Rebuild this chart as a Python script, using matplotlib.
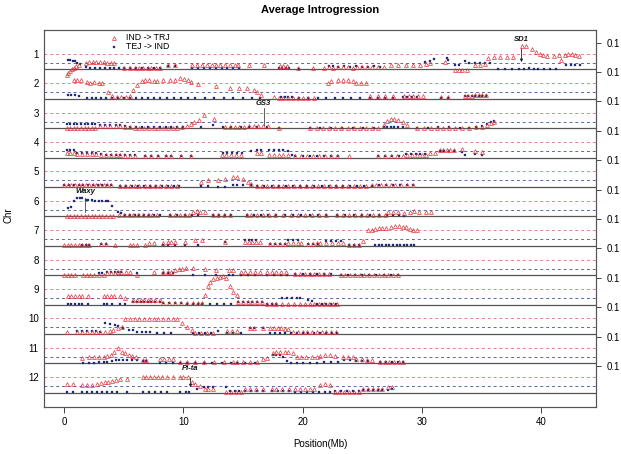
import numpy as np
import matplotlib
matplotlib.use("Agg")
import matplotlib.pyplot as plt

plt.rcParams['font.family'] = ['Liberation Sans', 'DejaVu Sans']

# (position Mb, height above chromosome baseline in row units)
chr1_red = [(0.2,-0.18),(0.35,-0.12),(0.5,-0.06),(0.65,0.0),(0.8,0.06),(1.0,0.1),(1.2,0.16),(1.8,0.23),(2.1,0.24),(2.4,0.24),(2.7,0.24),(3.0,0.24),(3.3,0.24),(3.6,0.23),(3.9,0.23),(4.2,0.22),(5.0,0.03),(5.5,0.03),(5.9,0.03),(6.3,0.03),(6.6,0.03),(7.0,0.03),(7.3,0.03),(7.7,0.03),(8.0,0.04),(8.7,0.15),(9.3,0.15),(10.7,0.14),(11.1,0.14),(11.6,0.14),(12.0,0.14),(12.4,0.14),(12.7,0.14),(13.1,0.14),(13.5,0.14),(13.9,0.14),(14.3,0.14),(14.6,0.14),(15.5,0.15),(16.8,0.15),(18.1,0.12),(18.4,0.1),(18.7,0.1),(19.6,0.04),(20.9,0.04),(21.8,0.04),(22.2,0.08),(22.6,0.06),(23.0,0.07),(23.4,0.08),(23.8,0.08),(24.2,0.06),(24.6,0.08),(25.0,0.08),(25.4,0.07),(25.8,0.08),(26.3,0.08),(26.8,0.08),(27.4,0.14),(28.0,0.14),(28.7,0.14),(29.3,0.14),(29.9,0.14),(30.4,0.18),(30.7,0.22),(32.0,0.24),(32.8,-0.02),(33.1,-0.03),(33.4,-0.03),(33.8,-0.02),(34.5,0.15),(34.9,0.16),(35.3,0.17),(35.6,0.4),(36.1,0.42),(36.6,0.42),(37.2,0.42),(37.7,0.42),(38.4,0.78),(38.8,0.78),(39.3,0.7),(39.6,0.6),(39.9,0.52),(40.2,0.47),(40.5,0.45),(41.1,0.45),(41.5,0.48),(41.7,0.32),(42.0,0.5),(42.3,0.52),(42.6,0.52),(42.9,0.5),(43.2,0.46)]
chr1_blue = [(0.3,0.3),(0.5,0.31),(0.7,0.29),(0.9,0.27),(1.1,0.22),(1.3,0.18),(1.8,0.08),(2.2,0.05),(2.6,0.05),(3.0,0.04),(3.4,0.04),(3.8,0.04),(4.2,0.04),(4.6,0.03),(5.0,0.03),(5.5,0.03),(6.0,0.03),(6.5,0.03),(7.0,0.03),(7.5,0.03),(8.0,0.03),(8.7,0.1),(9.3,0.1),(10.7,0.03),(11.2,0.03),(11.7,0.03),(12.2,0.03),(12.7,0.03),(13.2,0.03),(13.7,0.03),(14.2,0.03),(14.7,0.03),(18.0,0.04),(18.3,0.04),(18.6,0.04),(18.9,0.04),(19.7,0.02),(22.2,0.1),(22.6,0.1),(23.0,0.09),(23.5,0.1),(24.0,0.09),(24.5,0.1),(25.0,0.08),(25.5,0.09),(26.0,0.1),(26.5,0.08),(30.3,0.25),(30.7,0.28),(31.0,0.35),(32.1,0.4),(32.2,0.3),(32.8,0.15),(33.1,0.15),(33.6,0.28),(34.0,0.2),(34.5,0.2),(34.9,0.2),(35.3,0.2),(35.7,0.2),(36.4,0.02),(37.0,0.02),(37.6,0.02),(38.2,0.02),(38.6,0.02),(39.0,0.03),(39.4,0.02),(39.8,0.02),(40.3,0.02),(40.8,0.02),(41.3,0.02),(42.1,0.15),(42.5,0.15),(42.9,0.15),(43.3,0.15)]

chr2_red = [(0.8,0.62),(1.1,0.63),(1.4,0.62),(1.9,0.56),(2.2,0.55),(2.5,0.56),(2.9,0.55),(3.2,0.53),(3.7,0.22),(4.0,0.08),(4.4,0.06),(4.8,0.05),(5.2,0.05),(5.5,0.1),(5.8,0.3),(6.1,0.45),(6.5,0.6),(6.8,0.62),(7.1,0.62),(7.5,0.61),(7.8,0.6),(8.3,0.62),(8.9,0.62),(9.3,0.65),(9.75,0.7),(10.05,0.67),(10.35,0.62),(10.65,0.58),(11.25,0.5),(12.7,0.42),(13.9,0.38),(14.7,0.38),(15.3,0.38),(15.9,0.3),(16.2,0.22),(16.5,0.12),(17.6,0.05),(18.0,0.04),(18.4,0.04),(18.8,0.04),(19.2,0.04),(19.6,0.04),(20.0,0.04),(20.5,0.04),(21.0,0.04),(22.1,0.54),(22.4,0.6),(23.0,0.63),(23.4,0.64),(23.8,0.62),(24.2,0.6),(24.5,0.55),(24.9,0.54),(25.3,0.53),(25.7,0.1),(26.3,0.1),(26.9,0.1),(27.6,0.1),(28.5,0.08),(28.9,0.08),(29.3,0.08),(29.7,0.08),(30.1,0.08),(31.6,0.05),(32.2,0.05),(33.6,0.1),(33.9,0.1),(34.2,0.1),(34.5,0.11),(34.8,0.11),(35.1,0.11),(35.4,0.11)]
chr2_blue = [(0.3,0.12),(0.6,0.12),(0.9,0.11),(1.2,0.1),(1.9,0.03),(2.3,0.02),(2.7,0.02),(3.1,0.02),(3.5,0.02),(4.0,0.02),(4.5,0.02),(5.0,0.02),(5.5,0.02),(6.0,0.02),(6.5,0.02),(7.0,0.02),(7.5,0.02),(8.0,0.02),(8.6,0.02),(9.2,0.02),(9.8,0.02),(10.4,0.03),(11.0,0.02),(11.8,0.02),(12.6,0.02),(13.4,0.02),(14.2,0.02),(15.0,0.02),(15.8,0.02),(16.4,0.03),(18.2,0.06),(18.5,0.07),(18.8,0.06),(19.1,0.05),(19.7,0.02),(20.5,0.02),(21.3,0.02),(22.0,0.02),(22.7,0.02),(23.4,0.02),(24.1,0.02),(24.8,0.02),(25.7,0.03),(26.3,0.03),(26.9,0.03),(27.6,0.03),(28.4,0.06),(28.8,0.06),(29.2,0.06),(29.6,0.06),(31.6,0.03),(32.2,0.03),(33.6,0.08),(33.9,0.08),(34.2,0.08),(34.5,0.08),(34.8,0.08),(35.1,0.08),(35.4,0.08)]

chr3_red = [(0.2,0.02),(0.5,0.02),(0.8,0.02),(1.1,0.02),(1.4,0.02),(1.7,0.02),(2.0,0.02),(2.3,0.02),(2.6,0.02),(3.0,0.06),(3.4,0.06),(3.8,0.06),(4.3,0.06),(4.7,0.06),(5.1,0.03),(5.5,0.03),(5.9,0.02),(6.3,0.02),(6.7,0.02),(7.1,0.02),(7.5,0.02),(7.9,0.02),(8.3,0.02),(8.7,0.02),(9.1,0.02),(9.5,0.02),(9.9,0.03),(10.3,0.08),(10.6,0.15),(10.9,0.2),(11.3,0.28),(11.7,0.45),(12.6,0.32),(13.5,0.05),(13.9,0.04),(14.3,0.04),(14.7,0.05),(15.1,0.05),(15.5,0.06),(15.9,0.06),(16.3,0.07),(16.7,0.06),(17.1,0.06),(18.0,0.02),(20.6,0.02),(21.2,0.02),(21.7,0.02),(22.2,0.02),(22.7,0.02),(23.2,0.02),(23.8,0.02),(24.3,0.02),(24.8,0.02),(25.3,0.02),(25.8,0.02),(26.3,0.02),(26.8,0.1),(27.1,0.25),(27.4,0.3),(27.7,0.3),(28.0,0.28),(28.4,0.2),(28.8,0.1),(29.6,0.02),(30.2,0.02),(30.8,0.02),(31.3,0.02),(31.8,0.02),(32.3,0.02),(32.8,0.02),(33.4,0.02),(34.0,0.02),(34.6,0.03),(35.1,0.05),(35.5,0.12),(35.8,0.18),(36.1,0.22)]
chr3_blue = [(0.2,0.14),(0.5,0.14),(0.8,0.14),(1.1,0.14),(1.4,0.14),(1.7,0.14),(2.0,0.14),(2.3,0.13),(2.6,0.13),(3.0,0.12),(3.4,0.12),(3.8,0.12),(4.3,0.1),(4.7,0.1),(5.1,0.06),(5.5,0.04),(6.0,0.03),(6.5,0.03),(7.0,0.03),(7.5,0.03),(8.0,0.03),(8.5,0.03),(9.0,0.03),(9.5,0.03),(10.0,0.03),(11.5,0.03),(12.5,0.1),(13.3,0.03),(14.0,0.03),(14.8,0.03),(15.5,0.03),(16.2,0.03),(17.0,0.03),(18.0,0.02),(20.6,0.02),(21.5,0.02),(22.4,0.02),(23.3,0.02),(24.2,0.02),(25.1,0.02),(26.0,0.02),(26.8,0.03),(27.1,0.03),(27.4,0.03),(27.7,0.03),(28.0,0.03),(28.4,0.03),(29.6,0.02),(30.5,0.02),(31.4,0.03),(32.3,0.03),(33.2,0.02),(34.0,0.02),(34.6,0.03),(35.1,0.06),(35.5,0.14),(35.8,0.2),(36.1,0.24)]

chr4_red = [(0.2,0.16),(0.5,0.16),(0.8,0.16),(1.1,0.12),(1.5,0.12),(1.9,0.12),(2.3,0.12),(2.7,0.12),(3.1,0.1),(3.5,0.08),(3.9,0.08),(4.3,0.08),(4.7,0.08),(5.1,0.06),(5.5,0.06),(5.9,0.06),(6.8,0.04),(7.3,0.04),(7.9,0.04),(8.5,0.04),(9.0,0.04),(9.8,0.04),(10.6,0.04),(13.2,0.1),(13.6,0.1),(14.0,0.1),(14.4,0.1),(14.8,0.1),(16.2,0.16),(16.5,0.16),(17.2,0.07),(17.6,0.07),(18.0,0.07),(18.4,0.07),(18.8,0.07),(19.4,0.04),(19.9,0.04),(20.4,0.04),(20.9,0.04),(21.4,0.04),(21.9,0.04),(22.4,0.04),(22.9,0.04),(23.9,0.04),(26.3,0.04),(26.9,0.04),(27.4,0.04),(27.9,0.04),(28.4,0.04),(28.8,0.08),(29.2,0.08),(29.6,0.08),(30.0,0.08),(30.4,0.1),(30.7,0.15),(31.1,0.15),(31.5,0.24),(31.8,0.25),(32.1,0.25),(32.4,0.24),(32.7,0.24),(33.4,0.28),(34.5,0.22),(35.1,0.2)]
chr4_blue = [(0.2,0.25),(0.5,0.25),(0.8,0.24),(1.1,0.15),(1.5,0.15),(1.9,0.14),(2.3,0.14),(2.7,0.14),(3.1,0.13),(3.5,0.1),(3.9,0.1),(4.3,0.1),(4.7,0.1),(5.1,0.08),(5.5,0.08),(5.9,0.08),(6.8,0.04),(7.3,0.04),(7.9,0.04),(8.5,0.04),(9.0,0.04),(9.8,0.04),(10.6,0.04),(13.3,0.15),(13.7,0.15),(14.1,0.15),(14.5,0.15),(14.9,0.15),(15.7,0.22),(16.2,0.24),(16.5,0.25),(17.2,0.24),(17.6,0.24),(18.0,0.24),(18.4,0.24),(18.8,0.22),(19.1,0.1),(19.4,0.04),(20.0,0.04),(20.6,0.04),(21.2,0.04),(21.8,0.04),(22.4,0.04),(23.0,0.04),(26.3,0.04),(26.9,0.04),(27.5,0.04),(28.1,0.04),(28.7,0.12),(29.1,0.12),(29.5,0.12),(29.9,0.12),(30.3,0.12),(31.5,0.22),(31.9,0.22),(32.3,0.22),(32.7,0.22),(33.4,0.2),(33.6,0.1),(34.5,0.12),(35.1,0.1)]

chr5_red = [(0.0,0.06),(0.3,0.06),(0.6,0.06),(0.9,0.07),(1.2,0.07),(1.5,0.06),(1.8,0.06),(2.1,0.06),(2.4,0.06),(2.7,0.06),(3.0,0.06),(3.3,0.06),(3.6,0.06),(3.9,0.06),(4.7,0.03),(5.1,0.03),(5.5,0.03),(5.9,0.03),(6.3,0.03),(6.8,0.03),(7.2,0.03),(7.6,0.03),(8.0,0.03),(8.5,0.03),(9.0,0.03),(9.5,0.03),(11.5,0.18),(12.1,0.23),(12.9,0.24),(13.5,0.27),(14.2,0.33),(14.5,0.35),(15.0,0.27),(15.4,0.18),(15.7,0.1),(16.2,0.04),(16.6,0.04),(17.0,0.04),(17.5,0.04),(17.9,0.04),(18.4,0.04),(18.8,0.04),(19.3,0.04),(19.8,0.04),(20.3,0.04),(20.8,0.04),(21.3,0.04),(21.8,0.04),(22.3,0.04),(22.8,0.04),(23.3,0.04),(23.8,0.04),(24.3,0.04),(24.8,0.04),(25.3,0.04),(25.8,0.05),(26.2,0.06),(26.6,0.06),(27.0,0.06),(27.4,0.06),(27.8,0.05),(28.3,0.05),(28.8,0.05),(29.3,0.05)]
chr5_blue = [(0.0,0.06),(0.4,0.06),(0.8,0.06),(1.2,0.06),(1.6,0.06),(2.0,0.06),(2.4,0.06),(2.8,0.06),(3.2,0.06),(3.6,0.06),(3.9,0.06),(4.7,0.03),(5.2,0.03),(5.7,0.03),(6.2,0.03),(6.7,0.03),(7.2,0.03),(7.7,0.03),(8.2,0.03),(8.7,0.03),(9.2,0.03),(9.6,0.03),(11.5,0.03),(12.1,0.03),(12.9,0.0),(13.5,-0.01),(14.2,0.06),(14.5,0.06),(15.0,0.06),(15.7,0.06),(16.2,0.04),(16.8,0.04),(17.4,0.04),(18.0,0.04),(18.6,0.04),(19.2,0.04),(19.8,0.04),(20.4,0.04),(21.0,0.04),(21.6,0.04),(22.2,0.04),(22.8,0.04),(23.4,0.04),(24.0,0.04),(24.6,0.04),(25.2,0.04),(25.8,0.04),(26.4,0.05),(27.0,0.05),(27.6,0.05),(28.2,0.05),(28.8,0.05),(29.3,0.05)]

chr6_red = [(0.2,0.02),(0.5,0.02),(0.8,0.02),(1.1,0.02),(1.4,0.02),(1.7,0.02),(2.0,0.02),(2.3,0.02),(2.6,0.02),(2.9,0.02),(3.2,0.02),(3.5,0.02),(3.8,0.02),(4.1,0.02),(4.6,0.04),(5.0,0.05),(5.4,0.05),(5.8,0.05),(6.2,0.05),(6.6,0.05),(7.0,0.05),(7.4,0.05),(7.8,0.05),(8.9,0.04),(9.3,0.04),(9.7,0.04),(10.1,0.04),(10.5,0.06),(10.8,0.16),(11.1,0.17),(11.4,0.16),(11.8,0.13),(12.5,0.03),(12.9,0.03),(13.4,0.03),(13.9,0.03),(15.3,0.03),(15.7,0.03),(16.2,0.03),(16.7,0.03),(17.2,0.03),(17.7,0.03),(18.4,0.03),(19.0,0.03),(19.6,0.03),(20.2,0.03),(20.8,0.03),(21.4,0.03),(22.0,0.03),(22.9,0.03),(23.4,0.03),(23.9,0.03),(24.4,0.03),(24.9,0.03),(25.4,0.03),(25.9,0.03),(26.4,0.03),(26.9,0.03),(27.2,0.16),(27.6,0.16),(28.0,0.15),(28.5,0.12),(29.0,0.16),(29.4,0.17),(29.8,0.16),(30.4,0.14),(30.8,0.14)]
chr6_blue = [(0.35,0.29),(0.6,0.33),(0.8,0.52),(1.1,0.62),(1.3,0.63),(1.5,0.62),(1.8,0.55),(2.0,0.55),(2.3,0.54),(2.6,0.53),(2.9,0.53),(3.2,0.53),(3.5,0.53),(3.7,0.52),(4.0,0.36),(4.5,0.14),(4.8,0.1),(5.1,0.05),(5.5,0.05),(5.9,0.05),(6.3,0.05),(6.7,0.05),(7.1,0.05),(7.5,0.05),(8.0,0.05),(8.9,0.03),(9.5,0.03),(10.1,0.03),(10.7,0.03),(11.2,0.03),(12.5,0.03),(13.0,0.03),(13.5,0.03),(14.0,0.03),(15.3,0.03),(15.9,0.03),(16.5,0.03),(17.1,0.03),(17.8,0.03),(18.5,0.03),(19.2,0.03),(19.9,0.03),(20.6,0.03),(21.3,0.03),(22.0,0.03),(22.9,0.03),(23.6,0.03),(24.3,0.03),(25.0,0.03),(25.7,0.03),(26.4,0.03),(27.1,0.03),(27.6,0.03),(28.1,0.03),(28.5,0.02)]

chr7_red = [(0.0,0.02),(0.3,0.02),(0.6,0.02),(0.9,0.02),(1.2,0.02),(1.5,0.04),(1.8,0.04),(2.1,0.04),(3.1,0.06),(3.5,0.06),(4.25,0.04),(5.5,0.02),(5.8,0.02),(6.1,0.02),(6.8,0.04),(7.1,0.1),(7.5,0.1),(8.3,0.1),(8.7,0.14),(9.0,0.14),(9.3,0.14),(10.1,0.14),(11.0,0.18),(11.6,0.2),(13.5,0.14),(15.2,0.12),(15.5,0.12),(15.8,0.12),(16.1,0.12),(16.4,0.12),(17.3,0.06),(17.7,0.06),(18.1,0.06),(18.5,0.06),(18.8,0.1),(19.2,0.1),(19.6,0.1),(19.9,0.1),(20.5,0.06),(20.9,0.06),(21.2,0.08),(21.5,0.08),(22.0,0.1),(22.5,0.1),(23.0,0.1),(23.4,0.1),(23.9,0.02),(24.3,0.02),(24.7,0.02),(25.1,0.15),(25.5,0.53),(25.8,0.55),(26.1,0.57),(26.4,0.59),(26.7,0.59),(27.0,0.6),(27.4,0.65),(27.8,0.66),(28.1,0.66),(28.4,0.63),(28.7,0.63),(29.0,0.56),(29.3,0.55),(29.6,0.55)]
chr7_blue = [(1.5,0.04),(1.8,0.04),(2.1,0.04),(3.1,0.06),(3.5,0.06),(8.3,0.03),(8.7,0.03),(9.3,0.03),(10.1,0.02),(11.2,0.02),(13.5,0.12),(15.2,0.2),(15.5,0.2),(15.8,0.2),(16.1,0.2),(17.3,0.06),(17.7,0.06),(18.1,0.06),(18.5,0.06),(18.8,0.2),(19.2,0.2),(19.6,0.2),(20.5,0.06),(20.9,0.06),(21.3,0.06),(22.0,0.17),(22.4,0.17),(22.8,0.17),(23.2,0.17),(23.9,0.02),(24.3,0.02),(24.7,0.02),(26.1,0.02),(26.4,0.02),(26.7,0.02),(27.0,0.02),(27.3,0.02),(27.6,0.02),(27.9,0.02),(28.2,0.02),(28.5,0.02),(28.8,0.02),(29.1,0.02),(29.4,0.02)]

chr8_red = [(0.0,0.02),(0.3,0.02),(0.6,0.02),(0.9,0.02),(1.6,0.02),(1.9,0.02),(2.2,0.02),(2.5,0.02),(2.9,0.02),(3.3,0.02),(3.6,0.08),(3.9,0.08),(4.25,0.08),(4.5,0.1),(4.8,0.1),(5.2,0.12),(5.5,0.12),(6.1,0.02),(7.5,0.1),(8.3,0.1),(8.7,0.1),(9.0,0.1),(9.3,0.17),(9.6,0.2),(9.9,0.22),(10.2,0.23),(10.8,0.23),(11.8,0.2),(12.75,0.18),(13.8,0.18),(14.2,0.18),(14.8,0.1),(15.2,0.1),(15.6,0.1),(16.0,0.1),(16.4,0.1),(17.0,0.1),(17.4,0.1),(17.8,0.1),(18.2,0.1),(18.6,0.1),(19.4,0.05),(19.8,0.05),(20.2,0.05),(20.6,0.05),(21.0,0.05),(21.4,0.05),(21.8,0.05),(22.2,0.05),(23.2,0.02),(23.6,0.02),(24.0,0.02),(24.4,0.02),(24.8,0.02),(25.2,0.02),(25.6,0.02),(26.0,0.02),(26.4,0.02),(26.8,0.02),(27.2,0.02),(27.6,0.02),(28.0,0.02)]
chr8_blue = [(2.9,0.08),(3.2,0.08),(3.6,0.1),(3.9,0.1),(4.25,0.1),(4.5,0.1),(4.8,0.1),(6.1,0.06),(8.3,0.06),(8.7,0.06),(9.1,0.06),(10.8,0.02),(11.8,0.02),(12.75,0.0),(13.8,0.02),(14.2,0.02),(14.8,0.02),(15.4,0.02),(16.0,0.02),(17.0,0.0),(17.6,0.0),(18.2,0.0),(18.7,0.0),(19.4,0.04),(20.0,0.04),(20.6,0.04),(21.2,0.04),(21.8,0.04),(22.4,0.04),(23.2,0.01),(23.8,0.01),(24.4,0.01),(25.0,0.01),(25.6,0.01),(26.2,0.01),(26.8,0.01),(27.4,0.01),(28.0,0.01)]

chr9_red = [(0.3,0.28),(0.6,0.28),(0.9,0.28),(1.2,0.28),(1.5,0.28),(2.0,0.28),(3.3,0.28),(3.6,0.28),(3.9,0.28),(4.2,0.28),(4.7,0.28),(5.1,0.23),(5.8,0.15),(6.1,0.15),(6.4,0.15),(6.7,0.15),(7.0,0.15),(7.3,0.15),(7.6,0.15),(8.0,0.15),(8.3,0.06),(8.8,0.06),(9.3,0.06),(9.8,0.06),(10.3,0.05),(10.8,0.05),(11.2,0.05),(11.6,0.05),(11.8,0.31),(12.1,0.62),(12.2,0.78),(12.5,0.88),(12.8,0.9),(13.1,0.95),(13.3,0.97),(13.6,0.9),(13.9,0.64),(14.2,0.44),(14.5,0.33),(14.6,0.07),(15.0,0.07),(15.4,0.07),(15.8,0.07),(16.2,0.07),(16.6,0.07),(17.0,0.03),(17.4,0.03),(17.8,0.03),(18.3,0.03),(18.8,0.03),(19.3,0.03),(19.8,0.03),(20.2,0.03),(20.6,0.03),(21.0,0.03),(21.4,0.03),(21.8,0.03),(22.2,0.03),(22.6,0.03),(22.9,0.03)]
chr9_blue = [(0.3,0.03),(0.6,0.03),(0.9,0.03),(1.2,0.03),(1.5,0.03),(2.0,0.03),(3.3,0.03),(3.6,0.03),(4.0,0.03),(4.7,0.03),(5.1,0.03),(5.8,0.1),(6.1,0.1),(6.4,0.1),(6.7,0.1),(7.0,0.1),(7.3,0.1),(7.6,0.1),(8.0,0.1),(8.3,0.05),(8.8,0.05),(9.3,0.05),(9.8,0.05),(10.3,0.02),(10.8,0.02),(11.2,0.02),(11.6,0.02),(12.2,0.02),(12.8,0.02),(13.4,0.02),(14.0,0.02),(14.6,0.07),(15.0,0.07),(15.4,0.07),(15.8,0.07),(16.2,0.07),(16.6,0.07),(17.0,0.02),(17.4,0.02),(17.8,0.02),(18.3,0.22),(18.7,0.22),(19.1,0.22),(19.5,0.22),(19.8,0.22),(20.5,0.17),(20.8,0.12),(21.2,0.02),(21.6,0.02),(22.0,0.02),(22.4,0.02),(22.8,0.02)]

chr10_red = [(0.2,0.06),(1.1,0.06),(1.5,0.06),(1.9,0.06),(2.3,0.06),(2.7,0.06),(3.0,0.08),(3.4,0.08),(3.8,0.1),(4.1,0.15),(4.5,0.2),(4.85,0.24),(5.1,0.5),(5.5,0.5),(5.9,0.5),(6.3,0.5),(6.7,0.5),(7.1,0.5),(7.5,0.5),(7.9,0.5),(8.3,0.5),(8.7,0.5),(9.1,0.5),(9.5,0.5),(9.9,0.36),(10.3,0.22),(10.7,0.12),(11.0,0.04),(11.5,0.04),(12.0,0.04),(12.5,0.04),(13.7,0.1),(14.1,0.1),(14.5,0.1),(15.6,0.2),(15.9,0.2),(16.7,0.19),(17.3,0.2),(17.6,0.2),(17.9,0.2),(18.2,0.19),(18.5,0.18),(18.8,0.17),(19.2,0.05),(19.6,0.05),(20.0,0.05),(20.4,0.05),(20.8,0.05),(21.2,0.05),(21.6,0.05),(22.0,0.05),(22.4,0.05),(22.8,0.05)]
chr10_blue = [(1.1,0.1),(1.5,0.1),(1.9,0.1),(2.3,0.1),(2.7,0.1),(3.0,0.05),(3.4,0.36),(3.8,0.35),(4.25,0.3),(4.5,0.27),(4.95,0.2),(5.4,0.13),(5.8,0.12),(6.1,0.05),(6.5,0.05),(6.9,0.05),(7.2,0.05),(7.8,0.03),(8.4,0.03),(9.0,0.03),(10.8,0.04),(11.3,0.04),(11.8,0.04),(12.3,0.04),(12.9,0.1),(13.7,0.04),(14.2,0.04),(14.8,0.04),(15.6,0.2),(15.9,0.2),(16.7,0.19),(17.3,0.04),(17.7,0.04),(18.1,0.04),(18.5,0.04),(19.0,0.04),(19.5,0.03),(20.0,0.03),(20.5,0.03),(21.0,0.03),(21.5,0.03),(22.0,0.03),(22.5,0.03),(22.9,0.03)]

chr11_red = [(1.46,0.19),(2.1,0.2),(2.5,0.2),(2.9,0.21),(3.3,0.22),(3.6,0.24),(3.9,0.3),(4.2,0.4),(4.5,0.53),(4.85,0.4),(5.1,0.35),(5.4,0.3),(5.7,0.26),(6.0,0.22),(6.6,0.1),(6.9,0.1),(8.0,0.15),(8.4,0.15),(8.8,0.15),(9.1,0.15),(9.7,0.04),(10.3,0.04),(11.0,0.04),(11.7,0.04),(12.6,0.04),(13.4,0.04),(14.2,0.04),(14.5,0.04),(15.0,0.04),(15.6,0.04),(16.2,0.04),(16.7,0.15),(17.0,0.18),(17.5,0.35),(17.8,0.37),(18.1,0.38),(18.5,0.38),(18.8,0.38),(19.2,0.36),(19.5,0.22),(19.9,0.2),(20.3,0.2),(20.8,0.2),(21.2,0.2),(21.5,0.25),(21.9,0.27),(22.3,0.28),(22.7,0.26),(23.4,0.2),(23.8,0.2),(24.2,0.2),(24.5,0.15),(25.0,0.13),(25.4,0.12),(25.8,0.12),(26.5,0.05),(26.9,0.05),(27.3,0.05),(27.7,0.05),(28.1,0.05),(28.4,0.05)]
chr11_blue = [(1.6,0.02),(2.1,0.02),(2.5,0.02),(2.9,0.03),(3.3,0.04),(3.6,0.05),(4.0,0.07),(4.3,0.1),(4.6,0.12),(4.9,0.12),(5.3,0.12),(5.7,0.12),(6.1,0.12),(6.6,0.08),(6.9,0.08),(8.0,0.02),(8.5,0.02),(9.1,0.02),(9.7,0.02),(10.3,0.02),(11.0,0.02),(11.7,0.02),(12.4,0.02),(13.2,0.02),(14.0,0.02),(14.5,0.02),(15.2,0.02),(16.0,0.02),(17.5,0.28),(17.8,0.29),(18.1,0.3),(18.4,0.2),(18.7,0.08),(19.0,0.02),(19.5,0.02),(20.0,0.02),(20.6,0.02),(21.2,0.02),(21.8,0.03),(22.4,0.03),(23.0,0.05),(23.5,0.1),(24.0,0.1),(24.5,0.08),(25.0,0.08),(25.5,0.08),(26.5,0.04),(27.0,0.04),(27.5,0.04),(28.0,0.04),(28.4,0.04)]

chr12_red = [(0.2,0.28),(0.7,0.3),(1.5,0.27),(1.9,0.26),(2.3,0.26),(2.75,0.28),(3.1,0.32),(3.4,0.35),(3.7,0.38),(4.0,0.4),(4.3,0.43),(4.7,0.47),(5.3,0.47),(6.6,0.53),(6.9,0.53),(7.2,0.53),(7.5,0.53),(7.9,0.52),(8.2,0.53),(8.6,0.53),(9.1,0.53),(9.7,0.53),(10.0,0.53),(10.4,0.52),(10.7,0.36),(11.0,0.3),(11.4,0.22),(11.8,0.14),(12.1,0.13),(12.5,0.12),(13.6,0.04),(14.0,0.04),(14.4,0.04),(14.8,0.04),(15.2,0.12),(15.6,0.12),(16.1,0.12),(16.7,0.12),(17.4,0.12),(17.8,0.12),(18.3,0.12),(18.9,0.12),(19.4,0.13),(19.8,0.13),(20.2,0.13),(20.6,0.13),(21.0,0.13),(21.5,0.27),(21.9,0.3),(22.3,0.27),(22.7,0.02),(23.1,0.02),(23.5,0.02),(23.9,0.02),(24.3,0.02),(24.7,0.02),(25.1,0.12),(25.5,0.12),(25.9,0.12),(26.3,0.13),(26.7,0.14),(27.2,0.2),(27.5,0.2)]
chr12_blue = [(0.2,0.02),(0.7,0.02),(1.5,0.02),(1.9,0.02),(2.3,0.02),(2.75,0.02),(3.2,0.02),(3.6,0.02),(4.0,0.02),(4.4,0.02),(5.3,0.02),(6.6,0.02),(7.1,0.02),(7.6,0.02),(8.1,0.02),(8.6,0.02),(9.7,0.02),(10.2,0.02),(10.5,0.02),(11.1,0.12),(11.7,0.2),(12.1,0.2),(12.5,0.2),(13.6,0.2),(13.9,0.06),(14.3,0.06),(14.7,0.06),(15.2,0.06),(15.7,0.06),(16.2,0.06),(16.7,0.06),(17.4,0.06),(17.9,0.06),(18.4,0.06),(18.9,0.06),(19.4,0.02),(19.9,0.02),(20.4,0.02),(20.9,0.02),(21.4,0.02),(21.9,0.02),(22.3,0.02),(22.7,0.06),(23.2,0.06),(23.7,0.06),(24.2,0.06),(24.7,0.06),(25.1,0.1),(25.5,0.1),(25.9,0.1),(26.3,0.1),(26.7,0.1),(27.2,0.1),(27.5,0.12)]

red_sets = [chr1_red, chr2_red, chr3_red, chr4_red, chr5_red, chr6_red,
            chr7_red, chr8_red, chr9_red, chr10_red, chr11_red, chr12_red]
blue_sets = [chr1_blue, chr2_blue, chr3_blue, chr4_blue, chr5_blue, chr6_blue,
             chr7_blue, chr8_blue, chr9_blue, chr10_blue, chr11_blue, chr12_blue]

chr_labels = [str(i) for i in range(1, 13)]
x_ticks = [0, 10, 20, 30, 40]
red_thr = 0.527
blue_thr = 0.221

# gene marks: (name, chr, position Mb, label height, line top, line bottom, arrow)
genes = [("SD1", 1, 38.38, 1.0, 0.79, 0.15, True),
         ("GS3", 3, 16.73, 0.83, 0.69, 0.11, False),
         ("Waxy", 6, 1.76, 0.83, 0.62, 0.16, False),
         ("Pi-ta", 12, 10.6, 0.82, 0.59, 0.09, True)]

RED = '#E3363C'
BLUE = '#1E2B78'
TRI = dict(marker='^', ls='none', ms=2.8, mfc='none', mec=RED, mew=0.5)
SQ = dict(marker='s', ls='none', ms=1.9, color=BLUE, mec=BLUE, mew=0.2)

fig = plt.figure(figsize=(6.21, 4.54), dpi=100)
ax = fig.add_axes([0.0713, 0.1035, 0.8885, 0.8304])

for i in range(1, 13):
    ax.axhline(i - red_thr, color='#E68080', lw=0.7, ls=(0, (3, 3)))
    ax.axhline(i - blue_thr, color='#5A68AA', lw=0.7, ls=(0, (3, 3)))
    ax.axhline(i, color='#555555', lw=0.9)

for i in range(12):
    b = np.array(blue_sets[i])
    r = np.array(red_sets[i])
    ax.plot(b[:, 0], (i + 1) - b[:, 1], **SQ)
    ax.plot(r[:, 0], (i + 1) - r[:, 1], **TRI)

for name, c, pos, lab_h, top_h, bot_h, arrow in genes:
    ax.text(pos, c - lab_h, name, ha='center', va='center', fontsize=5.5,
            fontweight='bold', fontstyle='italic', color='#111111')
    if arrow:
        ax.annotate('', xy=(pos, c - bot_h), xytext=(pos, c - top_h),
                    arrowprops=dict(arrowstyle='-|>', lw=0.6, color='#222222',
                                    mutation_scale=4))
    else:
        ax.plot([pos, pos], [c - top_h, c - bot_h], color='#444444', lw=0.6)

ax.set_xlim(-1.68, 44.64)
ax.set_ylim(12.486, -0.337)

ax.set_xticks(x_ticks)
ax.set_xticklabels([str(t) for t in x_ticks], fontsize=7)
ax.tick_params(axis='x', length=4.3, width=0.7, pad=3, color='#444444')
ax.set_yticks([i - red_thr for i in range(1, 13)])
ax.set_yticklabels(chr_labels, fontsize=7)
ax.tick_params(axis='y', length=0, pad=4)

ax2 = ax.twinx()
ax2.set_ylim(ax.get_ylim())
ax2.set_yticks([i - 0.91 for i in range(1, 13)])
ax2.set_yticklabels(['0.1'] * 12, fontsize=7)
ax2.tick_params(axis='y', length=3.6, width=0.7, pad=4.3, color='#444444')

for a in (ax, ax2):
    for s in a.spines.values():
        s.set_color('#555555')
        s.set_linewidth(0.8)

# legend
ax.plot([4.2], [-0.08], clip_on=False, **TRI)
ax.plot([4.2], [0.24], clip_on=False, **SQ)
ax.text(5.2, -0.08, 'IND -> TRJ', fontsize=6.3, va='center', ha='left')
ax.text(5.2, 0.24, 'TEJ -> IND', fontsize=6.3, va='center', ha='left')

fig.text(320 / 621, 1 - 10 / 454, 'Average Introgression', ha='center', va='center',
         fontsize=8, fontweight='bold')
fig.text(320 / 621, 1 - 444 / 454, 'Position(Mb)', ha='center', va='center', fontsize=7)
fig.text(9 / 621, 1 - 215 / 454, 'Chr', ha='center', va='center', fontsize=7, rotation=90)

fig.savefig('out.png', dpi=100)
